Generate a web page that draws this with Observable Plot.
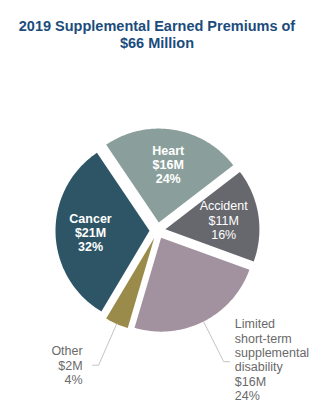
<!DOCTYPE html>
<html>
<head>
<meta charset="utf-8">
<script src="https://cdn.jsdelivr.net/npm/d3@7"></script>
<script src="https://cdn.jsdelivr.net/npm/@observablehq/plot@0.6"></script>
<style>
  body { margin: 0; background: #fff; width: 314px; height: 413px; overflow: hidden; font-family: "Liberation Sans", Arial, sans-serif; }
  #title { height: 60px; box-sizing: border-box; padding-top: 18px; text-align: center; font-size: 14.5px; line-height: 17px; font-weight: bold; color: #1b4c7c; margin: 0; }
  #chart svg { display: block; }
</style>
</head>
<body>
<div id="title">2019 Supplemental Earned Premiums of<br>$66 Million</div>
<div id="chart"></div>
<script>
// ---- data (clockwise from the top-left edge of "Heart") ----
const categories = ["Heart", "Accident", "Limited\nshort-term\nsupplemental\ndisability", "Other", "Cancer"];
const premiumsMillions = [16, 11, 16, 2, 21];
const percentShares = [24, 16, 24, 4, 32];

// ---- style / layout config ----
const sliceColors = ["#8a9f9b", "#67676e", "#a2919f", "#9b8b4a", "#2d5566"];
const boldInside = new Set(["Heart", "Cancer"]);
const outsideLabels = new Set(["Other", categories[2]]);
const R = 94, EXPLODE = 8, LABEL_R = 67, ELBOW_R = 147;
const START = -34 * Math.PI / 180;

const polar = (r, a) => [r * Math.sin(a), -r * Math.cos(a)];

const arcs = d3.pie().sort(null)
  .startAngle(START).endAngle(START + 2 * Math.PI)
  .value((d, i) => percentShares[i])(categories);

// slice outlines computed from the pie angles
const slicePts = [];
arcs.forEach((a, i) => {
  const mid = (a.startAngle + a.endAngle) / 2;
  const [ox, oy] = polar(EXPLODE, mid);
  const name = categories[i];
  slicePts.push({name, x: ox, y: oy});
  const n = Math.max(4, Math.ceil((a.endAngle - a.startAngle) / (Math.PI / 180)));
  for (let k = 0; k <= n; k++) {
    const t = a.startAngle + (a.endAngle - a.startAngle) * k / n;
    const [px, py] = polar(R, t);
    slicePts.push({name, x: ox + px, y: oy + py});
  }
  slicePts.push({name, x: ox, y: oy});
});

const labelText = i => `${categories[i]}\n$${premiumsMillions[i]}M\n${percentShares[i]}%`;

const inside = [], outside = [], leaders = [];
arcs.forEach((a, i) => {
  const mid = (a.startAngle + a.endAngle) / 2;
  const name = categories[i];
  if (!outsideLabels.has(name)) {
    const [x, y] = polar(LABEL_R, mid);
    inside.push({name, x, y, text: labelText(i), bold: boldInside.has(name)});
  } else {
    const side = Math.sin(mid) < 0 ? -1 : 1;
    const [sx, sy] = polar(R + EXPLODE, mid);
    const [ex, ey] = polar(ELBOW_R, mid);
    const tx = ex + side * 6;
    leaders.push({name, x: sx, y: sy}, {name, x: ex, y: ey}, {name, x: tx, y: ey});
    outside.push({name, x: tx + side * (side < 0 ? 10 : 5), y: ey + (side < 0 ? 0 : -2),
      text: labelText(i), anchor: side < 0 ? "end" : "start"});
  }
});

const font = "Liberation Sans, Arial, sans-serif";

const chart = Plot.plot({
  width: 314,
  height: 353,
  margin: 0,
  x: {domain: [-157, 157], range: [0, 314], axis: null},
  y: {domain: [-170, 183], range: [0, 353], axis: null},
  color: {domain: categories, range: sliceColors},
  style: {background: "transparent", fontFamily: font},
  marks: [
    Plot.line(slicePts, {x: "x", y: "y", z: "name", fill: "name", stroke: "none", curve: "linear"}),
    Plot.line(leaders, {x: "x", y: "y", z: "name", stroke: "#c4c4c4", strokeWidth: 1, curve: "linear"}),
    Plot.text(inside.filter(d => d.bold), {x: "x", y: "y", text: "text", fill: "white", fontSize: 12.5, fontWeight: "bold", lineHeight: 1.15, fontFamily: font}),
    Plot.text(inside.filter(d => !d.bold), {x: "x", y: "y", text: "text", fill: "white", fontSize: 12.5, lineHeight: 1.15, fontFamily: font}),
    Plot.text(outside.filter(d => d.anchor === "end"), {x: "x", y: "y", text: "text", fill: "#6a6a6a", fontSize: 12.5, lineHeight: 1.15, textAnchor: "end", fontFamily: font}),
    Plot.text(outside.filter(d => d.anchor === "start"), {x: "x", y: "y", text: "text", fill: "#6a6a6a", fontSize: 12.5, lineHeight: 1.15, textAnchor: "start", fontFamily: font})
  ]
});
document.getElementById("chart").appendChild(chart);
</script>
</body>
</html>
